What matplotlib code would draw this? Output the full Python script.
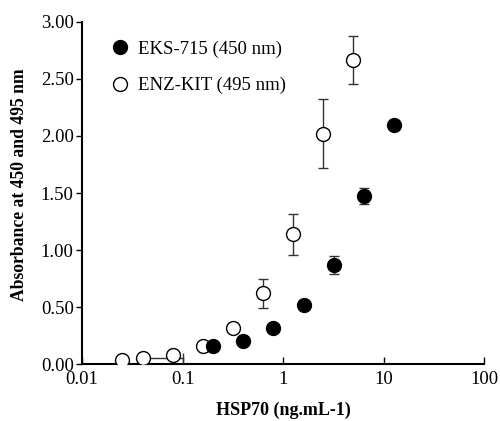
import numpy as np
import matplotlib
matplotlib.use('Agg')
import matplotlib.pyplot as plt
from matplotlib.lines import Line2D

plt.rcParams['font.family'] = ['Liberation Serif', 'DejaVu Serif']

# EKS-715 (450 nm), filled
eks_x = [0.2, 0.4, 0.8, 1.6, 3.2, 6.4, 12.8]
eks_y = [0.16, 0.20, 0.32, 0.52, 0.87, 1.47, 2.10]
eks_err = [0.01, 0.01, 0.01, 0.02, 0.08, 0.07, 0.02]

# ENZ-KIT (495 nm), open
enz_x = [0.025, 0.04, 0.08, 0.16, 0.32, 0.63, 1.25, 2.5, 5.0]
enz_y = [0.04, 0.05, 0.08, 0.16, 0.32, 0.62, 1.14, 2.02, 2.67]
enz_err = [0.01, 0.03, 0.02, 0.02, 0.04, 0.13, 0.18, 0.30, 0.21]
enz_xerr_hi = [0, 0.06, 0, 0, 0, 0, 0, 0, 0]

x_ticks = [0.01, 0.1, 1, 10, 100]
x_labels = ['0.01', '0.1', '1', '10', '100']
y_ticks = [0, 0.5, 1.0, 1.5, 2.0, 2.5, 3.0]

fs = 13.5

fig = plt.figure(figsize=(5, 4.21), dpi=100)
ax = fig.add_axes([0.164, 0.135, 0.804, 0.813])

ax.errorbar(enz_x, enz_y, yerr=enz_err, xerr=[[0] * len(enz_x), enz_xerr_hi],
            fmt='o', mfc='white', mec='black', mew=1.0, ms=10, ecolor='#333333',
            elinewidth=1.0, capsize=3.5, zorder=3)
ax.errorbar(eks_x, eks_y, yerr=eks_err, fmt='o', mfc='black', mec='black', ms=10,
            ecolor='#333333', elinewidth=1.0, capsize=3.5, zorder=4)

ax.set_xscale('log')
ax.set_xlim(0.01, 100)
ax.set_ylim(0, 3.0)
ax.set_xticks(x_ticks)
ax.set_xticklabels(x_labels)
ax.minorticks_off()
ax.set_yticks(y_ticks)
ax.set_yticklabels(['%.2f' % v for v in y_ticks])

ax.spines['top'].set_visible(False)
ax.spines['right'].set_visible(False)
ax.spines['left'].set_linewidth(1.5)
ax.spines['bottom'].set_linewidth(1.5)
ax.tick_params(axis='x', direction='in', length=5, width=1, labelsize=fs, pad=5)
ax.tick_params(axis='y', direction='out', length=4, width=1, labelsize=fs, pad=2)

ax.set_xlabel('HSP70 (ng.mL-1)', fontsize=13, fontweight='bold', labelpad=10)
ax.set_ylabel('Absorbance at 450 and 495 nm', fontsize=12.7, fontweight='bold')
ax.yaxis.set_label_coords(-0.134, 0.523)

handles = [
    Line2D([], [], ls='none', marker='o', mfc='black', mec='black', ms=10),
    Line2D([], [], ls='none', marker='o', mfc='white', mec='black', mew=1.0, ms=10),
]
ax.legend(handles, ['EKS-715 (450 nm)', 'ENZ-KIT (495 nm)'], loc='upper left',
          frameon=False, fontsize=fs, handletextpad=0.0, labelspacing=1.02,
          bbox_to_anchor=(0.005, 0.995))

fig.savefig('out.png', dpi=100)
